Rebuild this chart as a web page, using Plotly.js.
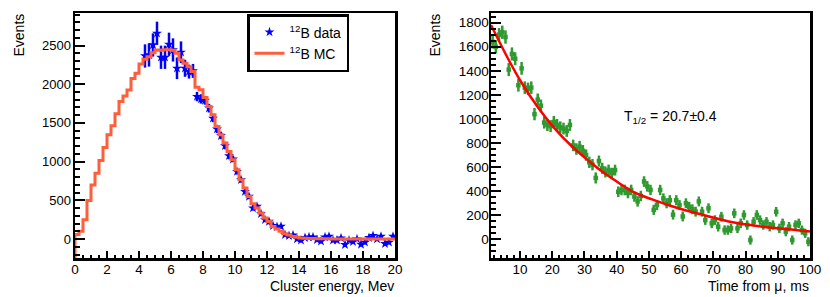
<!DOCTYPE html>
<html>
<head>
<meta charset="utf-8">
<script src="https://cdn.plot.ly/plotly-3.0.1.min.js"></script>
<style>html,body{margin:0;padding:0;background:#fff;}#chart{width:830px;height:297px;}</style>
</head>
<body>
<div id="chart"></div>
<script>
// ---------- Left panel: 12B cluster energy spectrum ----------
const mcBinWidth = 0.25;   // MeV
const mcCounts = [
  60,100,249,498,697,851,1014,1182,1346,1462,
  1617,1776,1849,1926,2073,2142,2262,2323,2356,2408,
  2443,2440,2445,2445,2440,2400,2313,2271,2227,2163,
  1961,1927,1828,1712,1604,1454,1346,1239,1131,1024,
  895,766,658,551,456,400,335,271,228,163,
  129,99,69,52,34,22,12,10,8,6,
  5,4,3,3,2,2,1,1,1,0,
  0,0,0,0,0,0,0,0,0,0
];
const dataFirstCenter = 4.375;  // MeV
const dataBinWidth = 0.25;
const dataCounts = [
  2365,2378,2507,2658,2348,2348,2516,2443,2206,2413,2206,2163,2172,
  1840,1810,1790,1690,1560,1420,1335,1204,1075,1032,872,765,614,550,400,421,326,249,227,172,
  160,163,
  55,43,51,0,-17,17,26,26,-9,-30,26,34,-17,-17,13,-73,-17,-35,0,-69,-43,17,43,0,34,-60,-43,34
];
const dataErrors = [
  150,150,150,150,150,150,150,150,140,140,110,90,90,
  60,60,55,55,50,50,45,45,45,40,40,38,36,35,32,32,30,30,28,28,
  26,26,
  25,25,25,25,25,25,25,25,25,25,25,25,25,25,25,25,25,25,25,25,25,25,25,25,25,25,25,25
];

// ---------- Right panel: time from muon ----------
const timeFirstCenter = 1.5;  // ms
const timeBinWidth = 1;
const timeCounts = [
  1640,1600,1700,1720,1680,1410,1540,1500,1280,1420,
  1260,1250,1260,1040,1160,1110,970,950,940,975,
  950,930,920,900,950,780,750,770,735,700,
  640,620,510,650,590,560,575,550,575,395,
  410,410,385,410,355,315,360,480,440,410,
  245,285,410,340,300,325,205,325,285,190,
  300,270,250,230,315,230,160,258,133,160,
  105,188,77,77,91,216,91,133,202,119,
  -6,146,202,160,119,146,105,119,229,91,
  133,63,105,-6,119,133,77,50,-20
];
const timeErrors = [
  55,55,55,55,55,54,54,54,53,53,
  52,52,52,51,51,51,50,50,50,50,
  50,50,49,49,49,48,48,48,48,47,
  47,47,46,46,46,46,46,45,45,44,
  44,44,44,44,43,43,43,44,44,43,
  42,42,43,42,42,42,41,42,41,41,
  41,41,41,41,41,41,40,41,40,40,
  40,40,39,39,39,40,39,40,40,39,
  38,39,40,39,39,39,39,39,40,39,
  39,38,39,38,39,39,38,38,38
];
// fit curve
const fitT = [1, 6.3, 10.4, 15.6, 20.8, 26, 31.2, 35.4, 40.6, 45.8, 51, 56.2, 61.3, 65.5, 74.8, 85.2, 95.6, 100];
const fitV = [1780, 1500, 1305, 1095, 920, 775, 655, 565, 470, 385, 332, 283, 241, 212, 148, 105, 78, 65];

// ---------- build traces ----------
const eMin = 0, eMax = 20, yLeftMin = -245, yLeftMax = 2920;
const mcX = [eMin], mcY = [yLeftMin];
mcCounts.forEach((v, i) => { mcX.push(eMin + i * mcBinWidth); mcY.push(v); });
mcX.push(eMin + mcCounts.length * mcBinWidth); mcY.push(mcCounts[mcCounts.length - 1]);

const dataX = dataCounts.map((_, i) => dataFirstCenter + i * dataBinWidth);
const timeX = timeCounts.map((_, i) => timeFirstCenter + i * timeBinWidth);

const FONT = 'Liberation Sans, Arial, Helvetica, sans-serif';
const GREEN = '#2f9a2f';

const traces = [
  {
    x: dataX, y: dataCounts, type: 'scatter', mode: 'markers', name: '<sup>12</sup>B data',
    marker: {symbol: 'star', size: 7.5, color: '#0000ff'},
    error_y: {type: 'data', array: dataErrors, visible: true, color: '#0000ff', thickness: 2.5, width: 0},
    xaxis: 'x', yaxis: 'y'
  },
  {
    x: mcX, y: mcY, type: 'scatter', mode: 'lines', name: '<sup>12</sup>B MC',
    line: {shape: 'hv', color: '#ff5e3a', width: 3},
    xaxis: 'x', yaxis: 'y'
  },
  {
    x: timeX, y: timeCounts, type: 'scatter', mode: 'markers', showlegend: false,
    marker: {symbol: 'square', size: 4.5, color: GREEN},
    error_y: {type: 'data', array: timeErrors, visible: true, color: GREEN, thickness: 2.5, width: 0},
    error_x: {type: 'constant', value: timeBinWidth / 2, visible: true, color: GREEN, thickness: 2.5, width: 0},
    xaxis: 'x2', yaxis: 'y2'
  },
  {
    x: fitT, y: fitV, type: 'scatter', mode: 'lines', showlegend: false,
    line: {shape: 'spline', smoothing: 1, color: '#ff0000', width: 2.5},
    xaxis: 'x2', yaxis: 'y2'
  }
];

const W = 830, H = 297;
const yDom = [1 - 258 / H, 1 - 13 / H];
function axisBase(extra) {
  return Object.assign({
    showline: true, linecolor: '#000', linewidth: 2.5, mirror: true,
    showgrid: false, zeroline: false, ticks: 'inside', tickcolor: '#000', tickwidth: 2,
    tickfont: {family: FONT, size: 13.5, color: '#000'}
  }, extra);
}

const layout = {
  width: W, height: H,
  margin: {l: 0, r: 0, t: 0, b: 0},
  paper_bgcolor: '#fff', plot_bgcolor: '#fff',
  font: {family: FONT, color: '#000'},
  xaxis: axisBase({domain: [75 / W, 395 / W], range: [eMin, eMax], tick0: 0, dtick: 2, ticklen: 7,
    ticklabelstandoff: -3,
    minor: {dtick: 0.5, ticklen: 3.5, tickwidth: 2, tickcolor: '#000', ticks: 'inside'}, anchor: 'y'}),
  yaxis: axisBase({domain: yDom, range: [yLeftMin, yLeftMax], tick0: 0, dtick: 500, ticklen: 10,
    tickfont: {family: FONT, size: 13, color: '#000'}, ticklabelstandoff: -1,
    minor: {dtick: 100, ticklen: 5, tickwidth: 2, tickcolor: '#000', ticks: 'inside'}, anchor: 'x'}),
  xaxis2: axisBase({domain: [491 / W, 810 / W], range: [1, 100], tick0: 0, dtick: 10, ticklen: 7,
    ticklabelstandoff: -3,
    minor: {dtick: 2, ticklen: 3.5, tickwidth: 2, tickcolor: '#000', ticks: 'inside'}, anchor: 'y2'}),
  yaxis2: axisBase({domain: yDom, range: [-155, 1880], tick0: 0, dtick: 200, ticklen: 10,
    tickfont: {family: FONT, size: 13.5, color: '#000'}, ticklabelstandoff: -3,
    minor: {dtick: 50, ticklen: 5, tickwidth: 2, tickcolor: '#000', ticks: 'inside'}, anchor: 'x2'}),
  showlegend: true,
  legend: {
    x: 247 / W, y: 1 - 14 / H, xanchor: 'left', yanchor: 'top',
    bgcolor: '#fff', bordercolor: '#000', borderwidth: 2.5,
    font: {family: FONT, size: 14, color: '#000'}
  },
  annotations: [
    {text: 'Events', xref: 'paper', yref: 'paper', x: 18 / W, y: 1 - 12 / H, xanchor: 'center', yanchor: 'top',
      textangle: -90, showarrow: false, font: {family: FONT, size: 14}},
    {text: 'Events', xref: 'paper', yref: 'paper', x: 434 / W, y: 1 - 12 / H, xanchor: 'center', yanchor: 'top',
      textangle: -90, showarrow: false, font: {family: FONT, size: 14}},
    {text: 'Cluster energy, Mev', xref: 'paper', yref: 'paper', x: 396 / W, y: 1 - 286 / H, xanchor: 'right', yanchor: 'middle',
      showarrow: false, font: {family: FONT, size: 14}},
    {text: 'Time from μ, ms', xref: 'paper', yref: 'paper', x: 811 / W, y: 1 - 286 / H, xanchor: 'right', yanchor: 'middle',
      showarrow: false, font: {family: FONT, size: 14}},
    {text: 'T<sub>1/2</sub> = 20.7±0.4', xref: 'x2', yref: 'y2', x: 41.5, y: 1020, xanchor: 'left', yanchor: 'middle',
      showarrow: false, font: {family: FONT, size: 14}}
  ]
};

Plotly.newPlot('chart', traces, layout, {staticPlot: true, displayModeBar: false});
</script>
</body>
</html>
